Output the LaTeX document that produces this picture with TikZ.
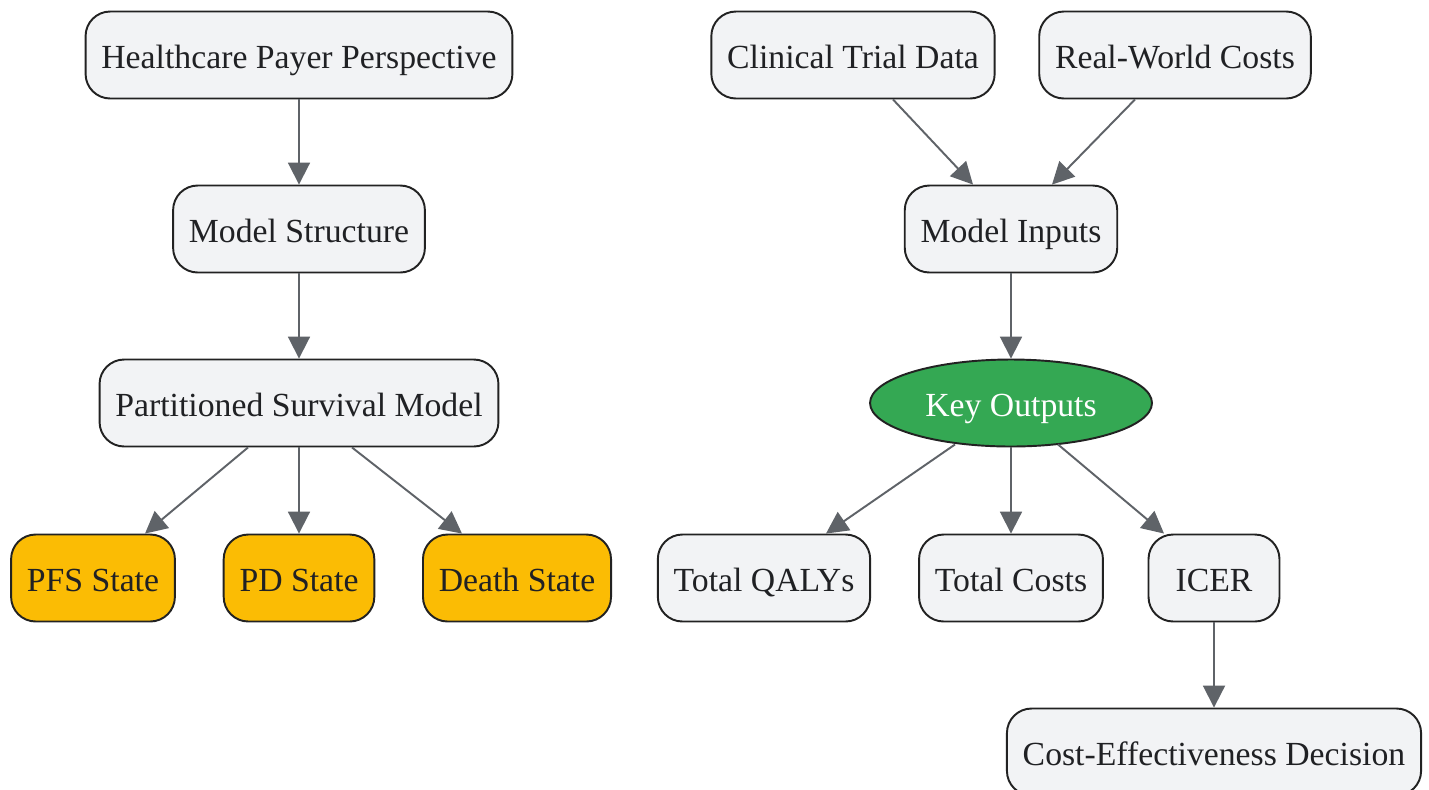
\documentclass[tikz,border=0pt]{standalone}
\usepackage{fontspec}
\setmainfont{Liberation Serif}
\usetikzlibrary{arrows.meta,shapes.geometric,calc}

\definecolor{boxfill}{HTML}{F2F3F5}
\definecolor{boxline}{HTML}{222222}
\definecolor{stateyellow}{HTML}{FBBC04}
\definecolor{hubgreen}{HTML}{34A853}
\definecolor{arrowgray}{HTML}{5F6368}
\definecolor{textdark}{HTML}{202124}

\begin{document}
\begin{tikzpicture}[x=0.02cm,y=-0.02cm]
    \tikzstyle{box}=[rectangle, rounded corners=14pt, draw=boxline, fill=boxfill, line width=1.1pt, minimum height=1.74cm, inner xsep=9pt, text height=17pt, text depth=2.2pt, text=textdark, font=\fontsize{19.2}{23}\selectfont]
    \tikzstyle{state}=[box, fill=stateyellow]
    \tikzstyle{hub}=[ellipse, draw=boxline, fill=hubgreen, line width=1.1pt, minimum width=5.64cm, minimum height=1.74cm, inner sep=0pt, text height=17pt, text depth=2.2pt, text=white, font=\fontsize{19.2}{23}\selectfont]
    \tikzstyle{edge}=[draw, line width=1.1pt, arrowgray, -{Triangle[length=12.5pt,width=12.5pt]}]

    \fill[white] (0,0) rectangle (1429,789);
    \useasboundingbox (0,0) rectangle (1429,789);

    % left branch: model structure
    \node[box] (payer) at (299,55) {Healthcare Payer Perspective};
    \node[box] (struct) at (299,229) {Model Structure};
    \node[box] (psm) at (299,403) {Partitioned Survival Model};
    \node[state] (pfs) at (93,578) {PFS State};
    \node[state] (pd) at (299,578) {PD State};
    \node[state] (death) at (517,578) {Death State};

    % right branch: inputs and outputs
    \node[box] (trial) at (853,55) {Clinical Trial Data};
    \node[box] (costs) at (1175,55) {Real-World Costs};
    \node[box] (inputs) at (1011,229) {Model Inputs};
    \node[hub] (outputs) at (1011,403) {Key Outputs};
    \node[box] (qaly) at (764,578) {Total QALYs};
    \node[box] (total) at (1011,578) {Total Costs};
    \node[box, minimum width=2.62cm] (icer) at (1214,578) {ICER};
    \node[box] (decision) at (1214,752) {Cost-Effectiveness Decision};

    \foreach \source/ \dest in {payer/struct, struct/psm, psm/pd, inputs/outputs, outputs/total, icer/decision}
        \path[edge] (\source.south) -- (\dest.north);

    \path[edge] ($(psm.south)+(-51,0)$) -- ($(pfs.north)+(52,0)$);
    \path[edge] ($(psm.south)+(53,0)$) -- ($(death.north)+(-55,0)$);
    \path[edge] ($(trial.south)+(40,0)$) -- ($(inputs.north)+(-38,0)$);
    \path[edge] ($(costs.south)+(-40,0)$) -- ($(inputs.north)+(41,0)$);
    \path[edge] ($(outputs.south)+(-56,-3)$) -- ($(qaly.north)+(62,0)$);
    \path[edge] ($(outputs.south)+(47,-3)$) -- ($(icer.north)+(-50,0)$);
\end{tikzpicture}
\end{document}
